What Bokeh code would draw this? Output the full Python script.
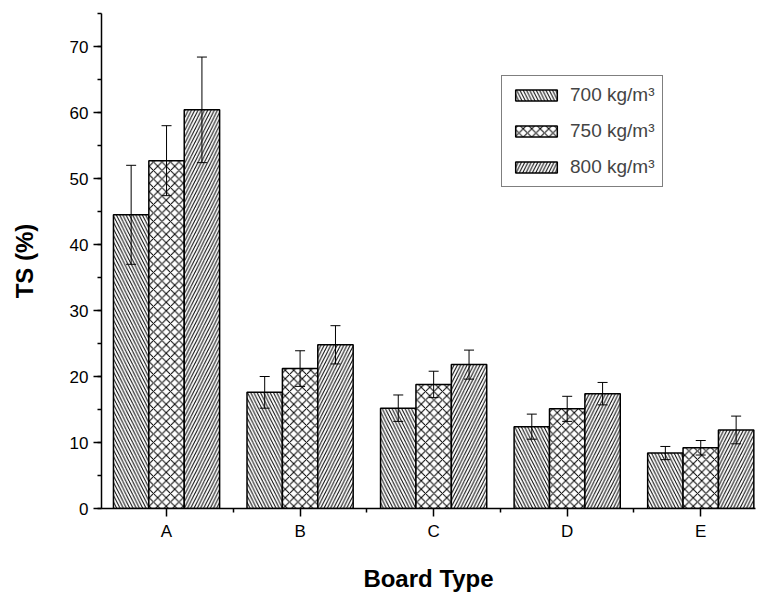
from bokeh.plotting import figure
from bokeh.models import (ColumnDataSource, Whisker, TeeHead, FixedTicker,
                          SingleIntervalTicker, Legend, LegendItem, Range1d)
from bokeh.embed import file_html
from bokeh.resources import INLINE

categories = ["A", "B", "C", "D", "E"]
series_labels = ["700 kg/m³", "750 kg/m³", "800 kg/m³"]
ts_700 = [44.5, 17.6, 15.2, 12.4, 8.4]
err_700 = [7.5, 2.4, 2.0, 1.9, 1.0]
ts_750 = [52.7, 21.2, 18.8, 15.1, 9.2]
err_750 = [5.3, 2.7, 2.0, 1.9, 1.1]
ts_800 = [60.4, 24.8, 21.8, 17.4, 11.9]
err_800 = [8.0, 2.9, 2.2, 1.7, 2.1]
x_title = "Board Type"
y_title = "TS (%)"

values = [ts_700, ts_750, ts_800]
errors = [err_700, err_750, err_800]
hatches = ["left_diagonal_line", "diagonal_cross", "right_diagonal_line"]
hatch_scales = [6.5, 8.5, 6.5]
bar_w = 0.265
offsets = [-bar_w, 0.0, bar_w]

FONT = "Liberation Sans"
X0, X1 = -0.487, 4.41

p = figure(width=758, height=595,
           x_range=Range1d(X0, X1), y_range=Range1d(0, 75),
           output_backend="svg", toolbar_location=None,
           min_border_left=101, min_border_right=3,
           min_border_top=13, min_border_bottom=87)
p.outline_line_color = None
p.xgrid.visible = False
p.ygrid.visible = False

items = []
for k in range(3):
    xs = [i + offsets[k] for i in range(len(categories))]
    src = ColumnDataSource(dict(
        x=xs, top=values[k],
        upper=[v + e for v, e in zip(values[k], errors[k])],
        lower=[v - e for v, e in zip(values[k], errors[k])]))
    r = p.vbar(x="x", top="top", width=bar_w, source=src,
               fill_color="white", line_color="black", line_width=1.5,
               hatch_pattern=hatches[k], hatch_color="black",
               hatch_scale=hatch_scales[k], hatch_weight=1)
    items.append(LegendItem(label=series_labels[k], renderers=[r]))
    wh = Whisker(base="x", upper="upper", lower="lower", source=src,
                 level="annotation",
                 line_color="black", line_width=1,
                 upper_head=TeeHead(size=10, line_color="black", line_width=1),
                 lower_head=TeeHead(size=10, line_color="black", line_width=1))
    p.add_layout(wh)

legend = Legend(items=items, location=(400, 321),
                glyph_width=52, glyph_height=14,
                label_text_font=FONT, label_text_font_size="19px",
                label_standoff=8, padding=8, spacing=14, margin=0,
                border_line_color="black", border_line_width=1,
                background_fill_color="white", background_fill_alpha=1)
p.add_layout(legend)

p.xaxis.ticker = FixedTicker(ticks=list(range(len(categories))),
                             minor_ticks=[i + 0.5 for i in range(len(categories) - 1)])
p.xaxis.major_label_overrides = {i: c for i, c in enumerate(categories)}
p.xaxis.axis_label = x_title
p.yaxis.ticker = SingleIntervalTicker(interval=10, num_minor_ticks=2)
p.yaxis.axis_label = y_title

for ax in (p.xaxis, p.yaxis):
    ax.axis_line_color = "black"
    ax.axis_line_width = 1.5
    ax.major_tick_line_color = "black"
    ax.major_tick_line_width = 1.5
    ax.minor_tick_line_color = "black"
    ax.minor_tick_line_width = 1.5
    ax.major_tick_in = 0
    ax.major_tick_out = 8
    ax.minor_tick_in = 0
    ax.minor_tick_out = 4
    ax.major_label_text_font = FONT
    ax.major_label_text_font_size = "17px"
    ax.major_label_text_color = "black"
    ax.axis_label_text_font = FONT
    ax.axis_label_text_font_size = "24px"
    ax.axis_label_text_font_style = "bold"
    ax.axis_label_text_color = "black"
    ax.major_label_standoff = 5

p.xaxis.axis_label_standoff = 21
p.yaxis.axis_label_standoff = 29

open("out.html", "w").write(file_html(p, INLINE))
